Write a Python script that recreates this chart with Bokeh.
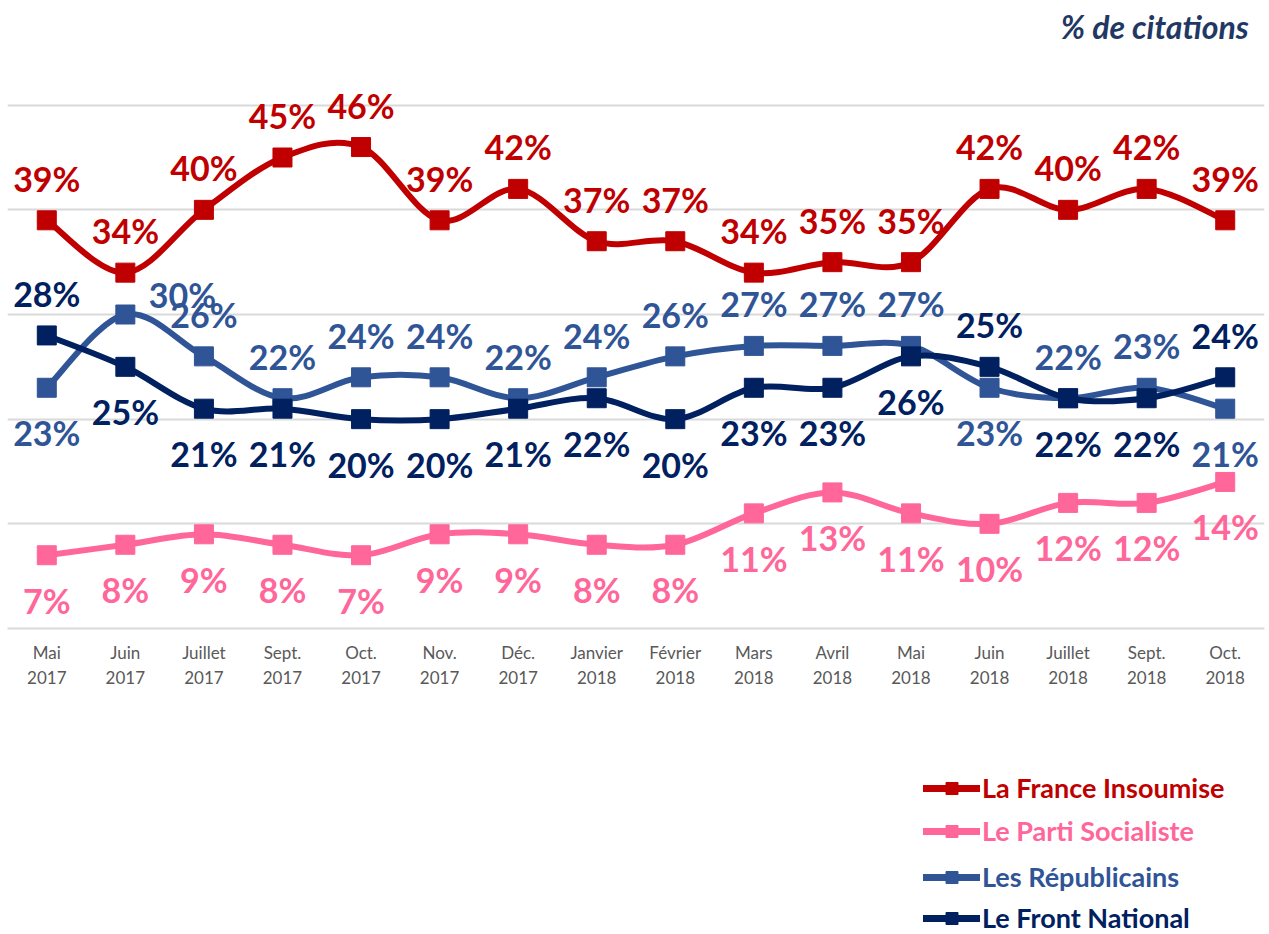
import numpy as np
from bokeh.plotting import figure
from bokeh.layouts import column
from bokeh.models import Range1d, FixedTicker, Legend, LegendItem, ColumnDataSource, Label
from bokeh.core.properties import value
from bokeh.embed import file_html
from bokeh.resources import INLINE

# ---------------- data ----------------
months = ["Mai\n2017", "Juin\n2017", "Juillet\n2017", "Sept.\n2017", "Oct.\n2017",
          "Nov.\n2017", "Déc.\n2017", "Janvier\n2018", "Février\n2018", "Mars\n2018",
          "Avril\n2018", "Mai\n2018", "Juin\n2018", "Juillet\n2018", "Sept.\n2018",
          "Oct.\n2018"]
lfi = [39, 34, 40, 45, 46, 39, 42, 37, 37, 34, 35, 35, 42, 40, 42, 39]
ps = [7, 8, 9, 8, 7, 9, 9, 8, 8, 11, 13, 11, 10, 12, 12, 14]
lr = [23, 30, 26, 22, 24, 24, 22, 24, 26, 27, 27, 27, 23, 22, 23, 21]
fn = [28, 25, 21, 21, 20, 20, 21, 22, 20, 23, 23, 26, 25, 22, 22, 24]
series_names = ["La France Insoumise", "Le Parti Socialiste", "Les Républicains", "Le Front National"]
y_ticks = [0, 10, 20, 30, 40, 50, 60]

# ---------------- style ----------------
colors = ["#C00000", "#FF6699", "#2F5597", "#002060"]
placements = [
    ["above"] * 16,
    ["below"] * 16,
    ["below", "right", "above", "above", "above", "above", "above", "above", "above",
     "above", "above", "above", "below", "above", "above", "below"],
    ["above", "below", "below", "below", "below", "below", "below", "below", "below",
     "below", "below", "below", "above", "below", "below", "above"],
]
offsets = {"above": (0, -42), "below": (0, 45), "right": (57, -20)}
FONT = "Lato"

W = 1269
H_MAIN = 700
H_LEG = 234
p = figure(width=W, height=H_MAIN, output_backend="svg", toolbar_location=None,
           x_range=Range1d(-0.5, len(months) - 0.5), y_range=Range1d(0, 60),
           min_border_left=7, min_border_right=5, min_border_top=0,
           min_border_bottom=H_MAIN - 628)
p.outline_line_color = None
p.background_fill_color = "white"
p.border_fill_color = "white"

p.yaxis.visible = False
p.ygrid.ticker = FixedTicker(ticks=y_ticks)
p.ygrid.grid_line_color = "#D9D9D9"
p.ygrid.grid_line_width = 2
p.xgrid.visible = False

xa = p.xaxis[0]
xa.ticker = FixedTicker(ticks=list(range(len(months))))
xa.major_label_overrides = {i: m for i, m in enumerate(months)}
xa.axis_line_color = "#D9D9D9"
xa.axis_line_width = 2
xa.major_tick_line_color = None
xa.minor_tick_line_color = None
xa.major_tick_out = 0
xa.major_label_standoff = 13
xa.major_label_text_font = FONT
xa.major_label_text_font_size = "17px"
xa.major_label_text_color = "#595959"

x = np.arange(len(months), dtype=float)


def bezier_source(vals):
    v = np.asarray(vals, dtype=float)
    prev = np.concatenate([[v[0]], v[:-1]])
    nxt = np.concatenate([v[1:], [v[-1]]])
    xp = np.concatenate([[x[0]], x[:-1]])
    xn = np.concatenate([x[1:], [x[-1]]])
    tx = (xn - xp) / 6.0
    ty = (nxt - prev) / 6.0
    return ColumnDataSource(dict(
        x0=x[:-1], y0=v[:-1], x1=x[1:], y1=v[1:],
        cx0=x[:-1] + tx[:-1], cy0=v[:-1] + ty[:-1],
        cx1=x[1:] - tx[1:], cy1=v[1:] - ty[1:],
    ))


all_series = [lfi, ps, lr, fn]
for vals, col in zip(all_series, colors):
    p.bezier(x0="x0", y0="y0", x1="x1", y1="y1", cx0="cx0", cy0="cy0", cx1="cx1", cy1="cy1",
             source=bezier_source(vals), line_color=col, line_width=6, line_cap="round")
    p.scatter(x, vals, marker="square", size=19, fill_color=col, line_color=col)

for vals, col, pl in zip(all_series, colors, placements):
    src = ColumnDataSource(dict(
        x=x, y=vals, t=[f"{v}%" for v in vals],
        dx=[offsets[k][0] for k in pl], dy=[offsets[k][1] for k in pl],
    ))
    p.text(x="x", y="y", text="t", source=src, x_offset="dx", y_offset="dy",
           text_align="center", text_baseline="middle", text_color=col,
           text_font=value(FONT), text_font_style="bold", text_font_size="34px")

p.add_layout(Label(x=15.3, y=57.5, text="% de citations", text_align="right",
                   text_baseline="alphabetic", text_font=FONT, text_font_style="bold italic",
                   text_font_size="32px", text_color="#1F3864"))

# ---------------- legend figure ----------------
lg = figure(width=W, height=H_LEG, output_backend="svg", toolbar_location=None,
            x_range=Range1d(0, 1), y_range=Range1d(0, 1),
            min_border_left=0, min_border_right=0, min_border_top=0, min_border_bottom=0)
lg.axis.visible = False
lg.grid.visible = False
lg.outline_line_color = None

legend_centers = [89, 132, 178, 219]  # from top of legend figure
for name, col, cy in zip(series_names, colors, legend_centers):
    # off-screen proxy renderers, used only for the legend swatches
    lr_ = lg.line([-5, -4], [-5, -5], line_color=col, line_width=7, line_cap="round")
    sr_ = lg.scatter([-5], [-5], marker="square", size=16, fill_color=col, line_color=col)
    leg = Legend(items=[LegendItem(label=name, renderers=[lr_, sr_])],
                 location=(916, H_LEG - (cy + 15)),
                 glyph_width=57, glyph_height=30, label_height=30, label_standoff=2,
                 padding=0, margin=0, border_line_color=None, background_fill_alpha=0,
                 label_text_font=FONT, label_text_font_style="bold",
                 label_text_font_size="27px", label_text_color=col)
    lg.add_layout(leg)

layout = column(p, lg, spacing=0)
open("out.html", "w").write(file_html(layout, INLINE))
